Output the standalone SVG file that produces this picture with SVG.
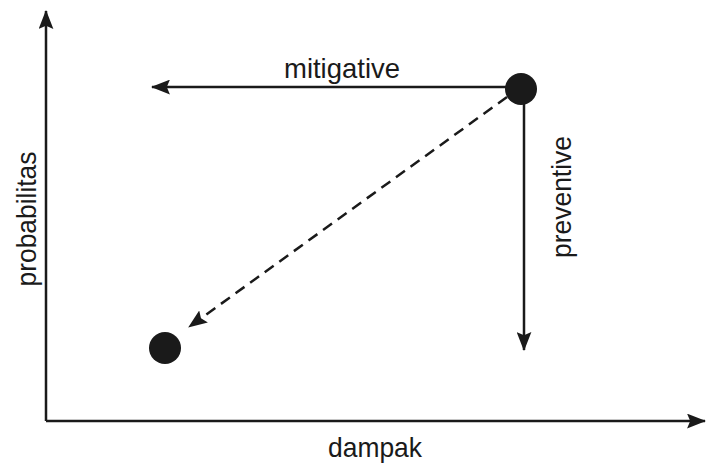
<svg xmlns="http://www.w3.org/2000/svg" width="706" height="467" viewBox="0 0 706 467">
<style>
.ln{stroke:#1a1a1a;stroke-width:2.5;fill:none}
.dash{stroke:#1a1a1a;stroke-width:2.5;fill:none;stroke-dasharray:11 7}
.dot{fill:#1a1a1a}
.lbl{font-family:"Liberation Sans",Arial,sans-serif;font-size:28.5px;fill:#1a1a1a}
</style>
<defs>
<marker id="ah" viewBox="0 0 18 14" refX="17" refY="7" markerWidth="19" markerHeight="15" markerUnits="userSpaceOnUse" orient="auto">
<path d="M0,0 L18,7 L0,14 L3,7 Z" fill="#1a1a1a"/>
</marker>
</defs>
<g id="axes">
<path class="ln" d="M46,421 L46,11" marker-end="url(#ah)"/>
<path class="ln" d="M46,421 L705,421" marker-end="url(#ah)"/>
<text class="lbl" x="375" y="457" text-anchor="middle" textLength="94" lengthAdjust="spacingAndGlyphs">dampak</text>
<text class="lbl" transform="translate(36,219) rotate(-90)" text-anchor="middle" textLength="135" lengthAdjust="spacingAndGlyphs">probabilitas</text>
</g>
<g id="connectors">
<path class="ln" d="M510,87 L152,87" marker-end="url(#ah)"/>
<path class="ln" d="M524,100 L524,350" marker-end="url(#ah)"/>
<path class="dash" d="M507,97 L189,327" marker-end="url(#ah)"/>
<text class="lbl" x="342" y="78" text-anchor="middle" textLength="116" lengthAdjust="spacingAndGlyphs">mitigative</text>
<text class="lbl" transform="translate(571,197) rotate(-90)" text-anchor="middle" textLength="122" lengthAdjust="spacingAndGlyphs">preventive</text>
</g>
<g id="node-current"><circle class="dot" cx="521" cy="89" r="16"/></g>
<g id="node-target"><circle class="dot" cx="165" cy="348" r="16"/></g>
</svg>
